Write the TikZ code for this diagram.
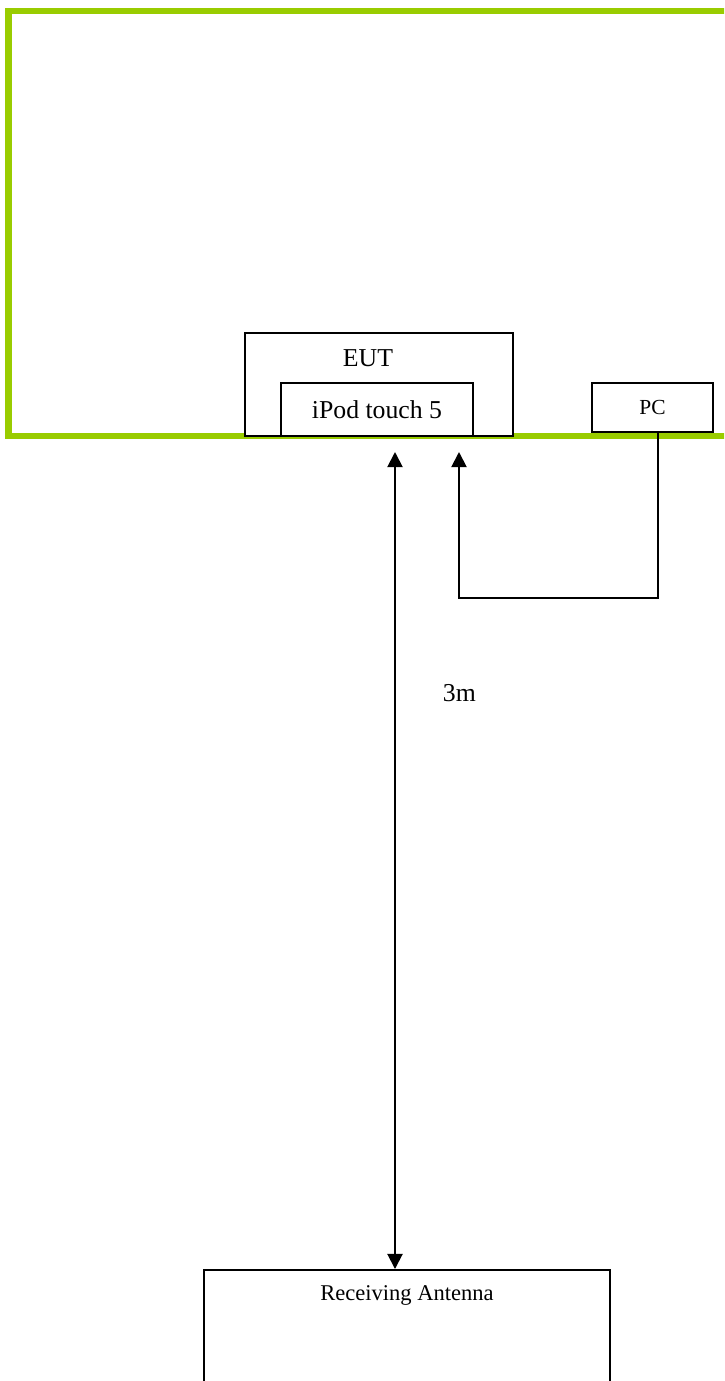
\documentclass[tikz,border=0pt]{standalone}
\usepackage{fontspec}
\setmainfont{Liberation Serif}
\usetikzlibrary{positioning, arrows.meta, calc}
\definecolor{FrameGreen}{RGB}{153, 204, 0}

\begin{document}
\begin{tikzpicture}[
    x=0.466pt, y=-0.466pt,
    box/.style={rectangle, draw=black, fill=white, line width=1pt, inner sep=0pt},
    arrow/.style={-{Triangle[width=7pt, length=7pt]}, line width=0.9pt},
    dblarrow/.style={{Triangle[width=7pt, length=7pt]}-{Triangle[width=7pt, length=7pt]}, line width=0.9pt}
  ]
    \useasboundingbox (0,0) rectangle (724,1381);
    \clip (0,0) rectangle (724,1381);

    % Chamber frame
    \draw[FrameGreen, line width=3.2pt] (730,11) -- (8.5,11) -- (8.5,436) -- (730,436);

    % EUT
    \node[box, minimum width=124.9pt, minimum height=48pt] (eut) at (379,384.5) {};
    \node[font=\fontsize{12}{14}\selectfont] (euttext) at (368,358) {EUT};
    \node[box, minimum width=89.5pt, minimum height=24.7pt, font=\fontsize{12}{14}\selectfont] (ipod) at (377,409.5) {iPod touch 5};

    % PC
    \node[box, minimum width=56.4pt, minimum height=22.8pt, font=\fontsize{10}{12}\selectfont] (pc) at (652.5,407.5) {PC};

    % Receiving antenna
    \node[box, minimum width=189.2pt, minimum height=80pt, anchor=north] (ant) at (407,1269) {};
    \node[font=\fontsize{10.5}{12}\selectfont, below=4pt of ant.north] (anttext) {Receiving Antenna};

    % Connections
    \coordinate (rxtop) at (395,452);
    \coordinate (pcturn) at (459,598);
    \coordinate (ipodin) at (459,452);
    \draw[dblarrow] (rxtop) -- node[pos=0.295, xshift=30pt, font=\fontsize{12}{14}\selectfont] {3m} (ant.north -| rxtop);
    \draw[arrow] ([xshift=2.6pt]pc.south) |- (pcturn) -- (ipodin);
  \end{tikzpicture}
\end{document}
